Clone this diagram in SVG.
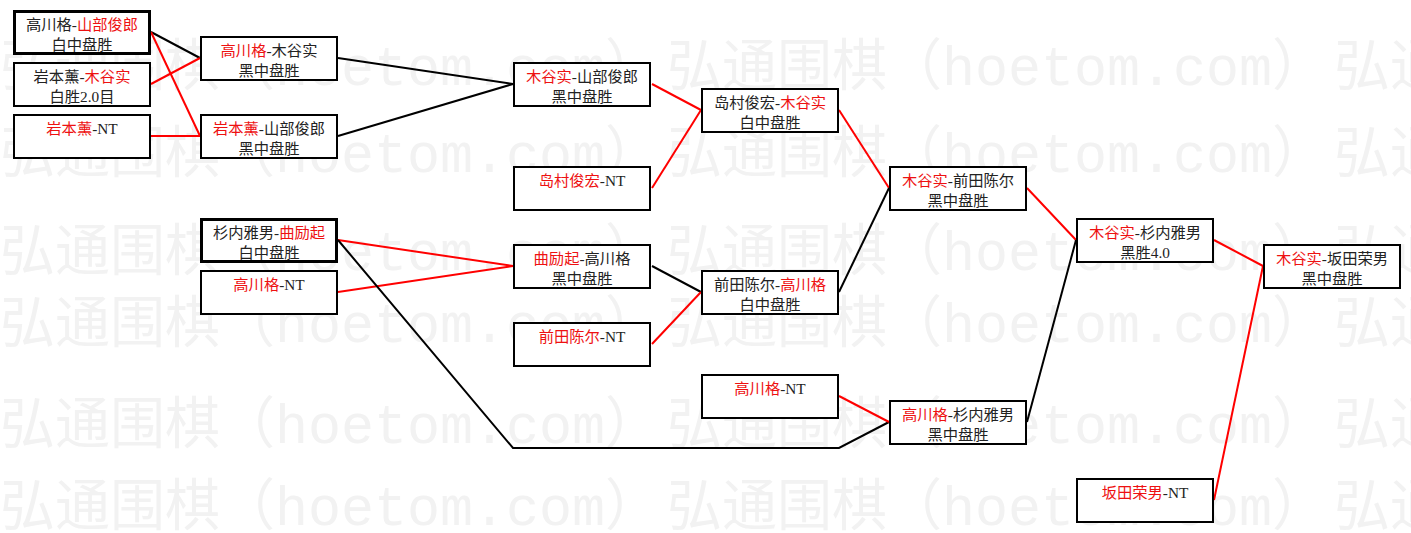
<svg xmlns="http://www.w3.org/2000/svg" width="1411" height="533" viewBox="0 0 1411 533">
<style>
.wm{font-family:"Liberation Mono","Noto Sans CJK SC",monospace;font-size:56px;fill:#f2f2f2}
.box{fill:#ffffff;stroke:#000000;stroke-width:2}
.thick{stroke-width:3}
.t{font-family:"Liberation Serif","Noto Sans CJK SC",serif;font-size:15.3px;fill:#222222;text-anchor:middle}
.r{fill:#ee1111}
.k{stroke:#000000;stroke-width:2;fill:none}
.rd{stroke:#ff0000;stroke-width:2;fill:none}
</style>
<rect x="0" y="0" width="1411" height="533" fill="#ffffff"/>
<g id="watermark">
<text class="wm" x="0" y="85" textLength="660" lengthAdjust="spacingAndGlyphs">弘通围棋（hoetom.com）</text>
<text class="wm" x="667" y="85" textLength="660" lengthAdjust="spacingAndGlyphs">弘通围棋（hoetom.com）</text>
<text class="wm" x="1334" y="85">弘通</text>
<text class="wm" x="0" y="172" textLength="660" lengthAdjust="spacingAndGlyphs">弘通围棋（hoetom.com）</text>
<text class="wm" x="667" y="172" textLength="660" lengthAdjust="spacingAndGlyphs">弘通围棋（hoetom.com）</text>
<text class="wm" x="1334" y="172">弘通</text>
<text class="wm" x="0" y="270" textLength="660" lengthAdjust="spacingAndGlyphs">弘通围棋（hoetom.com）</text>
<text class="wm" x="667" y="270" textLength="660" lengthAdjust="spacingAndGlyphs">弘通围棋（hoetom.com）</text>
<text class="wm" x="1334" y="270">弘通</text>
<text class="wm" x="0" y="342" textLength="660" lengthAdjust="spacingAndGlyphs">弘通围棋（hoetom.com）</text>
<text class="wm" x="667" y="342" textLength="660" lengthAdjust="spacingAndGlyphs">弘通围棋（hoetom.com）</text>
<text class="wm" x="1334" y="342">弘通</text>
<text class="wm" x="0" y="443" textLength="660" lengthAdjust="spacingAndGlyphs">弘通围棋（hoetom.com）</text>
<text class="wm" x="667" y="443" textLength="660" lengthAdjust="spacingAndGlyphs">弘通围棋（hoetom.com）</text>
<text class="wm" x="1334" y="443">弘通</text>
<text class="wm" x="0" y="525" textLength="660" lengthAdjust="spacingAndGlyphs">弘通围棋（hoetom.com）</text>
<text class="wm" x="667" y="525" textLength="660" lengthAdjust="spacingAndGlyphs">弘通围棋（hoetom.com）</text>
<text class="wm" x="1334" y="525">弘通</text>
</g>
<g id="connectors">
<line class="k" x1="151" y1="32" x2="200" y2="58"/>
<line class="rd" x1="151" y1="32" x2="200" y2="136"/>
<line class="rd" x1="151" y1="84" x2="200" y2="58"/>
<line class="rd" x1="151" y1="136" x2="200" y2="136"/>
<line class="k" x1="338" y1="58" x2="513" y2="84"/>
<line class="k" x1="338" y1="136" x2="513" y2="84"/>
<line class="rd" x1="652" y1="84" x2="701" y2="110"/>
<line class="rd" x1="652" y1="188" x2="701" y2="110"/>
<line class="rd" x1="338" y1="240" x2="513" y2="266"/>
<line class="rd" x1="338" y1="292" x2="513" y2="266"/>
<polyline class="k" points="338,240 513,448 839,448 889,422"/>
<line class="k" x1="652" y1="266" x2="701" y2="292"/>
<line class="rd" x1="652" y1="344" x2="701" y2="292"/>
<line class="rd" x1="839" y1="110" x2="889" y2="188"/>
<line class="k" x1="839" y1="292" x2="889" y2="188"/>
<line class="rd" x1="839" y1="396" x2="889" y2="422"/>
<line class="rd" x1="1027" y1="188" x2="1076" y2="240"/>
<line class="k" x1="1027" y1="422" x2="1076" y2="240"/>
<line class="rd" x1="1214" y1="240" x2="1263" y2="266"/>
<line class="rd" x1="1214" y1="500" x2="1263" y2="266"/>
</g>
<g id="n1"><rect class="box thick" x="14.5" y="11.5" width="135" height="42"/><text class="t" x="82" y="30">高川格-<tspan class="r">山部俊郎</tspan></text><text class="t" x="82" y="50">白中盘胜</text></g>
<g id="n2"><rect class="box" x="14" y="63" width="136" height="43"/><text class="t" x="82" y="82">岩本薰-<tspan class="r">木谷实</tspan></text><text class="t" x="82" y="102">白胜2.0目</text></g>
<g id="n3"><rect class="box" x="14" y="115" width="136" height="43"/><text class="t" x="82" y="134"><tspan class="r">岩本薰</tspan>-NT</text></g>
<g id="n4"><rect class="box" x="201" y="37" width="136" height="43"/><text class="t" x="269" y="56"><tspan class="r">高川格</tspan>-木谷实</text><text class="t" x="269" y="76">黑中盘胜</text></g>
<g id="n5"><rect class="box" x="201" y="115" width="136" height="43"/><text class="t" x="269" y="134"><tspan class="r">岩本薰</tspan>-山部俊郎</text><text class="t" x="269" y="154">黑中盘胜</text></g>
<g id="n6"><rect class="box thick" x="201.5" y="219.5" width="135" height="42"/><text class="t" x="269" y="238">杉内雅男-<tspan class="r">曲励起</tspan></text><text class="t" x="269" y="258">白中盘胜</text></g>
<g id="n7"><rect class="box" x="201" y="271" width="136" height="43"/><text class="t" x="269" y="290"><tspan class="r">高川格</tspan>-NT</text></g>
<g id="n8"><rect class="box" x="514" y="63" width="136" height="43"/><text class="t" x="582" y="82"><tspan class="r">木谷实</tspan>-山部俊郎</text><text class="t" x="582" y="102">黑中盘胜</text></g>
<g id="n9"><rect class="box" x="514" y="167" width="136" height="43"/><text class="t" x="582" y="186"><tspan class="r">岛村俊宏</tspan>-NT</text></g>
<g id="n10"><rect class="box" x="514" y="245" width="136" height="43"/><text class="t" x="582" y="264"><tspan class="r">曲励起</tspan>-高川格</text><text class="t" x="582" y="284">黑中盘胜</text></g>
<g id="n11"><rect class="box" x="514" y="323" width="136" height="43"/><text class="t" x="582" y="342"><tspan class="r">前田陈尔</tspan>-NT</text></g>
<g id="n12"><rect class="box" x="702" y="89" width="136" height="43"/><text class="t" x="770" y="108">岛村俊宏-<tspan class="r">木谷实</tspan></text><text class="t" x="770" y="128">白中盘胜</text></g>
<g id="n13"><rect class="box" x="702" y="271" width="136" height="43"/><text class="t" x="770" y="290">前田陈尔-<tspan class="r">高川格</tspan></text><text class="t" x="770" y="310">白中盘胜</text></g>
<g id="n14"><rect class="box" x="702" y="375" width="136" height="43"/><text class="t" x="770" y="394"><tspan class="r">高川格</tspan>-NT</text></g>
<g id="n15"><rect class="box" x="890" y="167" width="136" height="43"/><text class="t" x="958" y="186"><tspan class="r">木谷实</tspan>-前田陈尔</text><text class="t" x="958" y="206">黑中盘胜</text></g>
<g id="n16"><rect class="box" x="890" y="401" width="136" height="43"/><text class="t" x="958" y="420"><tspan class="r">高川格</tspan>-杉内雅男</text><text class="t" x="958" y="440">黑中盘胜</text></g>
<g id="n17"><rect class="box" x="1077" y="219" width="136" height="43"/><text class="t" x="1145" y="238"><tspan class="r">木谷实</tspan>-杉内雅男</text><text class="t" x="1145" y="258">黑胜4.0</text></g>
<g id="n18"><rect class="box" x="1077" y="479" width="136" height="43"/><text class="t" x="1145" y="498"><tspan class="r">坂田荣男</tspan>-NT</text></g>
<g id="n19"><rect class="box" x="1264" y="245" width="136" height="43"/><text class="t" x="1332" y="264"><tspan class="r">木谷实</tspan>-坂田荣男</text><text class="t" x="1332" y="284">黑中盘胜</text></g>
</svg>
